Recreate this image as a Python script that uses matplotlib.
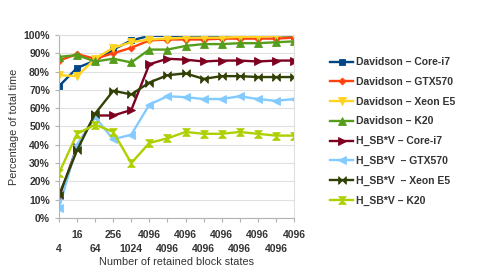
import matplotlib
matplotlib.use('Agg')
import matplotlib.pyplot as plt

# ====== Data ======
states = ['4', '16', '64', '256', '1024', '4096', '4096', '4096', '4096',
          '4096', '4096', '4096', '4096', '4096']

dav_core_i7 = [72, 82, 86, 92, 97, 99.5, 99.5, 99.5, 99.5, 99.5, 99.5, 99.5, 99.5, 99.5]
dav_gtx570 = [86, 89.5, 87, 90, 93, 97, 97.5, 97.5, 97.5, 98, 98, 98, 98, 98.5]
dav_xeon = [78, 77.5, 87, 93, 96, 97.5, 98, 98.5, 98.5, 98.5, 99, 99, 99.5, 100]
dav_k20 = [88, 89, 85.5, 87, 85, 92, 92, 94, 95, 95, 95.5, 95.5, 96, 96.5]
hsb_core_i7 = [11, 39, 56, 56, 59, 84, 87, 86.5, 85.5, 86, 86, 85.5, 86, 86]
hsb_gtx570 = [5.5, 40, 55, 43, 45.5, 62, 66.5, 66, 65, 65, 66.5, 65, 64, 65]
hsb_xeon = [12.5, 37, 57, 69.5, 67.5, 74, 78, 79, 76, 77.5, 77.5, 77, 77, 77]
hsb_k20 = [24.5, 46, 51, 47, 30, 41, 43.5, 47, 46, 46, 47, 46, 45, 45]

labels = ['Davidson \u2013 Core-i7', 'Davidson \u2013 GTX570', 'Davidson \u2013 Xeon E5',
          'Davidson \u2013 K20', 'H_SB*V \u2013 Core-i7', 'H_SB*V  \u2013 GTX570',
          'H_SB*V  \u2013 Xeon E5', 'H_SB*V \u2013 K20']
series = [dav_core_i7, dav_gtx570, dav_xeon, dav_k20,
          hsb_core_i7, hsb_gtx570, hsb_xeon, hsb_k20]
colors = ['#004586', '#ff420e', '#ffd320', '#579d1c',
          '#7e0021', '#83caff', '#314004', '#aecf00']

bowtie_h = [(-1, -1), (1, 1), (1, -1), (-1, 1), (-1, -1)]
bowtie_v = [(-1, -1), (1, -1), (-1, 1), (1, 1), (-1, -1)]
markers = ['s', 'D', 'v', '^', '>', '<', bowtie_h, bowtie_v]
msizes = [5, 3.5, 5.5, 5.5, 5.5, 5.5, 5.5, 5.5]

plt.rcParams['font.family'] = ['Liberation Sans', 'DejaVu Sans']
plt.rcParams['font.weight'] = 'bold'
txt = '#333333'

fig = plt.figure(figsize=(4.78, 2.73), dpi=100)
ax = fig.add_axes([0.1234, 0.2015, 0.4916, 0.6705])

x = list(range(len(states)))
for ys, lab, c, m, ms in zip(series, labels, colors, markers, msizes):
    ax.plot(x, ys, color=c, lw=1.7, marker=m, markersize=ms,
            markeredgewidth=0.6, markeredgecolor=c, label=lab)

ax.set_xlim(0, len(states) - 1)
ax.set_ylim(0, 100)
ax.set_yticks(range(0, 101, 10))
ax.set_yticklabels([f'{v}%' for v in range(0, 101, 10)])

# staggered category labels: even ones on the lower row
ax.set_xticks(x[0::2])
ax.set_xticklabels(states[0::2])
ax.set_xticks(x[1::2], minor=True)
ax.set_xticklabels(states[1::2], minor=True)

ax.grid(axis='y', color='#e0e0e0', lw=0.8)
ax.set_axisbelow(True)
for sp in ax.spines.values():
    sp.set_color('#e0e0e0')
ax.spines['left'].set_color('#b3b3b3')
ax.spines['bottom'].set_color('#b3b3b3')
ax.tick_params(axis='both', which='both', colors='#b3b3b3', labelcolor=txt,
               labelsize=7.5, length=3, width=0.8)
ax.tick_params(axis='x', which='minor', pad=5.5)
ax.tick_params(axis='x', which='major', pad=15.5)

ax.set_ylabel('Percentage of total time', fontsize=7.8, color=txt, labelpad=3)
ax.set_xlabel('Number of retained block states', fontsize=7.8, color=txt, labelpad=2.5)

fig.legend(loc='upper left', bbox_to_anchor=(0.682, 0.805), frameon=False,
           fontsize=7.5, labelcolor=txt, handlelength=2.2, handletextpad=0.3,
           labelspacing=0.93, borderaxespad=0)

fig.savefig('out.png', dpi=100)
